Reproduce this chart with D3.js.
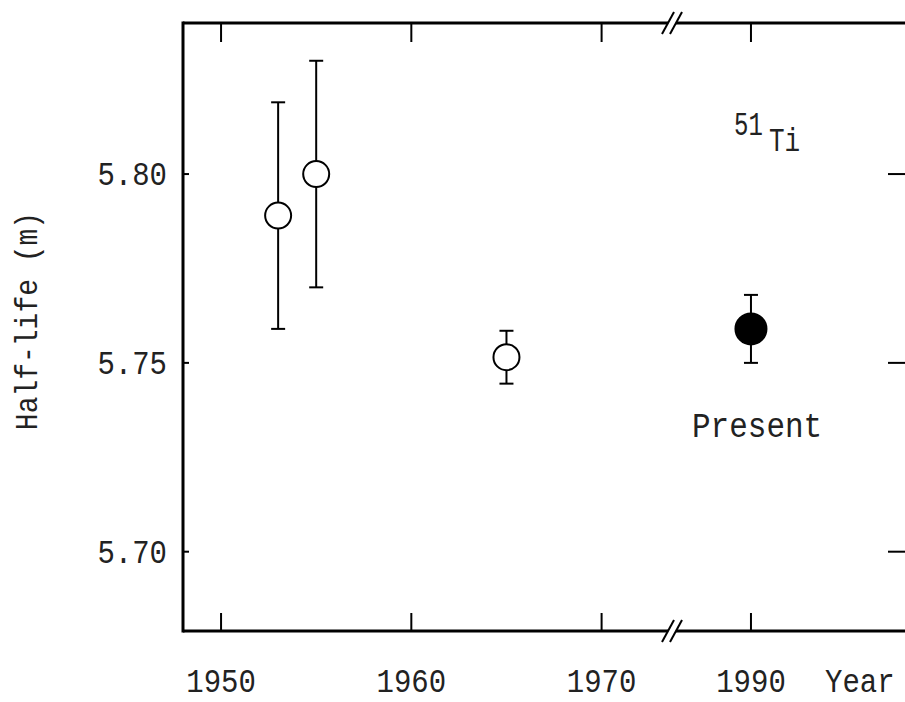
<!DOCTYPE html>
<html>
<head>
<meta charset="utf-8">
<script src="https://cdn.jsdelivr.net/npm/d3@7"></script>
<style>
  body { margin: 0; background: #fff; }
  svg { display: block; }
  text { font-family: "Liberation Mono", "DejaVu Sans Mono", monospace; fill: #222; }
</style>
</head>
<body>
<script>
"use strict";

// measurements of 51Ti half-life (minutes)
var years   = [1953, 1955, 1965, 1990];
var values  = [5.789, 5.800, 5.7515, 5.759];
var errors  = [0.030, 0.030, 0.007, 0.009];
var present = [false, false, false, true];

var xTicksLeft  = [1950, 1960, 1970];
var xTicksRight = [1990];
var yTicks      = [5.70, 5.75, 5.80];
var yTickLabels = ["5.70", "5.75", "5.80"];

function mainChart(){
  var width = 905,
      height = 702;

  var svg = d3.select("body")
            .append("svg")
            .attr("width", width)
            .attr("height", height);

  var left = 183, top = 23, bottom = 631, right = 907;

  // broken x axis: two pieces with same scale
  var xL = d3.scaleLinear().domain([1948, 1973.7]).range([left, 672]);
  var xR = d3.scaleLinear().domain([1985.9, 1998.1]).range([673, 905]);
  function xPos(yr){ return yr < 1980 ? xL(yr) : xR(yr); }

  var y = d3.scaleLinear().domain([5.679, 5.840]).range([bottom, top]);

  var brk = xL(1973.7);

  // taller, typewriter-ish text
  function label(x, yy, size, sy, anchor, txt){
    return svg.append("text")
      .attr("transform", "translate(" + x + "," + yy + ") scale(1," + sy + ")")
      .attr("text-anchor", anchor)
      .style("font-size", size + "px")
      .text(txt);
  }

  // frame
  var frame = svg.append("g")
      .attr("stroke", "#000")
      .attr("stroke-width", 3)
      .attr("fill", "none");

  frame.append("line").attr("x1", left).attr("x2", left).attr("y1", top - 1.5).attr("y2", bottom + 1.5);
  [top, bottom].forEach(function(yy){
    frame.append("line").attr("x1", left).attr("x2", brk - 4).attr("y1", yy).attr("y2", yy);
    frame.append("line").attr("x1", brk + 4).attr("x2", right).attr("y1", yy).attr("y2", yy);
    // break marks //
    [-4, 4].forEach(function(dx){
      svg.append("line")
        .attr("x1", brk + dx - 6).attr("y1", yy + 11)
        .attr("x2", brk + dx + 6).attr("y2", yy - 11)
        .attr("stroke", "#000")
        .attr("stroke-width", 2);
    });
  });

  // x ticks top and bottom
  var xt = xTicksLeft.map(function(d){ return {yr: d, x: xL(d)}; })
      .concat(xTicksRight.map(function(d){ return {yr: d, x: xR(d)}; }));

  svg.append("g").selectAll("line.tt")
    .data(xt).enter().append("line")
      .attr("x1", function(d){ return d.x; })
      .attr("x2", function(d){ return d.x; })
      .attr("y1", top).attr("y2", top + 19)
      .attr("stroke", "#000").attr("stroke-width", 2);

  svg.append("g").selectAll("line.bt")
    .data(xt).enter().append("line")
      .attr("x1", function(d){ return d.x; })
      .attr("x2", function(d){ return d.x; })
      .attr("y1", bottom).attr("y2", bottom - 18)
      .attr("stroke", "#000").attr("stroke-width", 2);

  xt.forEach(function(d){
    label(d.x, 692, 29, 1.15, "middle", d.yr);
  });
  label(825, 692, 29, 1.15, "start", "Year");

  // y ticks left (short) and right (long)
  svg.append("g").selectAll("line")
    .data(yTicks).enter().append("line")
      .attr("x1", left).attr("x2", left + 6)
      .attr("y1", function(d){ return y(d); })
      .attr("y2", function(d){ return y(d); })
      .attr("stroke", "#000").attr("stroke-width", 2);

  svg.append("g").selectAll("line")
    .data(yTicks).enter().append("line")
      .attr("x1", 888).attr("x2", right)
      .attr("y1", function(d){ return y(d); })
      .attr("y2", function(d){ return y(d); })
      .attr("stroke", "#000").attr("stroke-width", 2);

  yTicks.forEach(function(d, i){
    label(167, y(d) + 11, 29, 1.15, "end", yTickLabels[i]);
  });

  svg.append("text")
      .attr("transform", "translate(37,321) rotate(-90) scale(1,1.15)")
      .attr("text-anchor", "middle")
      .style("font-size", "28px")
      .text("Half-life (m)");

  // error bars
  var pts = years.map(function(d, i){
    return {x: xPos(d), v: values[i], e: errors[i], p: present[i]};
  });

  var eb = svg.append("g")
      .attr("stroke", "#000")
      .attr("stroke-width", 2);

  eb.selectAll("line.v")
    .data(pts).enter().append("line")
      .attr("x1", function(d){ return d.x; })
      .attr("x2", function(d){ return d.x; })
      .attr("y1", function(d){ return y(d.v + d.e); })
      .attr("y2", function(d){ return y(d.v - d.e); });

  eb.selectAll("line.hi")
    .data(pts).enter().append("line")
      .attr("x1", function(d){ return d.x - 7; })
      .attr("x2", function(d){ return d.x + 7; })
      .attr("y1", function(d){ return y(d.v + d.e); })
      .attr("y2", function(d){ return y(d.v + d.e); });

  eb.selectAll("line.lo")
    .data(pts).enter().append("line")
      .attr("x1", function(d){ return d.x - 7; })
      .attr("x2", function(d){ return d.x + 7; })
      .attr("y1", function(d){ return y(d.v - d.e); })
      .attr("y2", function(d){ return y(d.v - d.e); });

  svg.append("g").selectAll("circle")
    .data(pts).enter().append("circle")
      .attr("cx", function(d){ return d.x; })
      .attr("cy", function(d){ return y(d.v); })
      .attr("r", function(d){ return d.p ? 15.5 : 13; })
      .attr("fill", function(d){ return d.p ? "#000" : "#fff"; })
      .attr("stroke", "#000")
      .attr("stroke-width", 2);

  // labels
  label(692, 437, 31, 1.15, "start", "Present");
  label(734, 135, 24, 1.35, "start", "51");
  label(769, 151, 26, 1.25, "start", "Ti");
}

mainChart();
</script>
</body>
</html>
